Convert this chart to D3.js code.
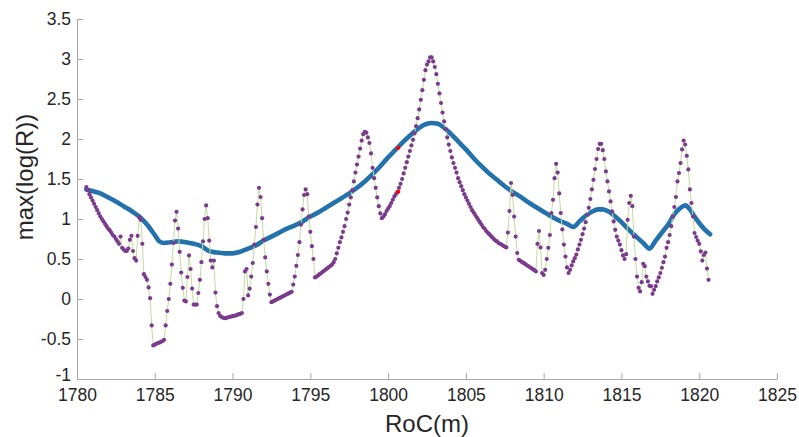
<!DOCTYPE html>
<html>
<head>
<meta charset="utf-8">
<script src="https://cdn.jsdelivr.net/npm/d3@7"></script>
<style>
  body { margin: 0; background: #fff; }
  .chart text { font-family: "Liberation Sans", Arial, Helvetica, sans-serif; fill: #262626; }
</style>
</head>
<body>
<div id="chart"></div>
<script>
// x axis ticks and y axis ticks
const xTicks = [1780, 1785, 1790, 1795, 1800, 1805, 1810, 1815, 1820, 1825];
const yTicks = [-1, -0.5, 0, 0.5, 1, 1.5, 2, 2.5, 3, 3.5];

// purple series: sampled every 0.1 m starting at 1780.6
const rocStart = 1780.6;
const rocStep = 0.1;
const maxLogR = [
  1.40, 1.36, 1.31, 1.27, 1.23, 1.19, 1.15, 1.11, 1.07, 1.03,
  1.00, 0.97, 0.94, 0.91, 0.88, 0.86, 0.83, 0.80, 0.78, 0.75,
  0.72, 0.69,
  0.78, 0.64, 0.62, 0.60, 0.60, 0.63, 0.74, 0.79, 0.60, 0.51,
  0.48, 0.79, 1.02, 0.99, 0.69, 0.31, 0.275, 0.24, 0.145, 0.01,
  -0.33, -0.58, -0.57, -0.56, -0.55, -0.545, -0.535, -0.525, -0.51, -0.33,
  -0.15, 0.0, 0.19, 0.43, 0.70, 0.98, 1.09, 0.88, 0.59, 0.33,
  0.14, -0.02, -0.03, 0.275, 0.545, 0.375, 0.13, -0.07, -0.07, -0.07,
  0.075, 0.24, 0.46, 0.72, 1.0, 1.17, 1.01, 0.73, 0.48, 0.395,
  0.48, 0.08, -0.09, -0.175, -0.21, -0.225, -0.235, -0.24, -0.235, -0.23,
  -0.225, -0.22, -0.215, -0.21, -0.205, -0.2, -0.19, -0.185, -0.175, 0.0,
  0.345, 0.375, 0.045, 0.13, 0.28, 0.45, 0.68, 0.9, 1.18, 1.39,
  1.275, 1.01, 0.74, 0.52, 0.345, 0.19, 0.055, -0.04, -0.03, -0.02,
  -0.01, 0.0, 0.01, 0.02, 0.03, 0.04, 0.05, 0.06, 0.07, 0.08,
  0.09, 0.18, 0.28, 0.415, 0.55, 0.71, 0.93, 1.12, 1.30, 1.37,
  1.31, 1.03, 0.84, 0.66, 0.5, 0.27, 0.28, 0.295, 0.31, 0.325,
  0.34, 0.355, 0.37, 0.385, 0.40, 0.415, 0.43, 0.46, 0.50, 0.57,
  0.64, 0.71, 0.77, 0.84, 0.91, 1.00, 1.08, 1.18, 1.27, 1.36,
  1.47, 1.58, 1.68, 1.78, 1.88, 1.98, 2.06, 2.09, 2.08, 2.02,
  1.95, 1.82, 1.64, 1.51, 1.39, 1.27, 1.16, 1.07, 1.01, 1.03,
  1.06, 1.10, 1.13, 1.16, 1.20, 1.24, 1.28, 1.31, 1.34, 1.39,
  1.44, 1.50, 1.57, 1.64, 1.71, 1.78, 1.85, 1.92, 1.99, 2.07,
  2.16, 2.26, 2.37, 2.49, 2.61, 2.74, 2.86, 2.93, 2.97, 3.02,
  3.02, 2.97, 2.90, 2.81, 2.69, 2.57, 2.45, 2.33, 2.22, 2.12,
  2.02, 1.93, 1.85, 1.77, 1.70, 1.64, 1.58, 1.51, 1.46, 1.41,
  1.36, 1.31, 1.27, 1.23, 1.19, 1.15, 1.11, 1.08, 1.05, 1.02,
  0.99, 0.96, 0.93, 0.90, 0.88, 0.85, 0.83, 0.81, 0.79, 0.77,
  0.75, 0.73, 0.72, 0.70, 0.69, 0.68, 0.665, 0.655, 0.645, 0.83,
  1.10, 1.45, 1.30, 1.03, 0.78, 0.575, 0.49, 0.477, 0.464, 0.451,
  0.438, 0.425, 0.412, 0.399, 0.386, 0.373, 0.36, 0.345, 0.69, 0.85,
  0.645, 0.325, 0.30, 0.365, 0.50, 0.64, 0.80, 1.075, 1.24, 1.51,
  1.69, 1.58, 1.32, 1.075, 0.87, 0.68, 0.53, 0.395, 0.325, 0.365,
  0.42, 0.47, 0.51, 0.555, 0.62, 0.68, 0.74, 0.81, 0.88, 0.96,
  1.05, 1.14, 1.25, 1.37, 1.49, 1.625, 1.75, 1.875, 1.94, 1.94,
  1.86, 1.75, 1.595, 1.47, 1.345, 1.22, 1.095, 0.97, 0.865, 0.78,
  0.73, 0.68, 0.61, 0.545, 0.50, 0.56, 0.99, 1.20, 1.29, 1.16,
  0.78, 0.50, 0.28, 0.14, 0.095, 0.21, 0.44, 0.41, 0.28, 0.22,
  0.165, 0.16, 0.065, 0.115, 0.16, 0.22, 0.27, 0.325, 0.39, 0.46,
  0.53, 0.64, 0.71, 0.80, 0.91, 1.03, 1.15, 1.275, 1.47, 1.575,
  1.70, 1.87, 1.98, 1.93, 1.79, 1.62, 1.37, 1.20, 1.03, 0.825,
  0.775, 0.73, 0.69, 0.595, 0.48, 0.55, 0.58, 0.38, 0.24
];

// blue envelope curve
const envRoc = [
  1780.6, 1781, 1781.5, 1782, 1782.5, 1783, 1783.5, 1784, 1784.5, 1785,
  1785.3, 1785.6, 1786, 1786.5, 1787, 1787.5, 1788, 1788.5, 1789, 1789.5,
  1790, 1790.5, 1791, 1791.5, 1792, 1792.5, 1793, 1793.5, 1794, 1794.5,
  1795, 1795.5, 1796, 1796.5, 1797, 1797.5, 1798, 1798.5, 1799, 1799.5,
  1800, 1800.5, 1801, 1801.5, 1802, 1802.5, 1802.8, 1803.2, 1803.6, 1804,
  1804.5, 1805, 1805.5, 1806, 1806.5, 1807, 1807.5, 1808, 1808.5, 1809,
  1809.5, 1810, 1810.5, 1811, 1811.5, 1811.9, 1812.3, 1812.7, 1813.1, 1813.5,
  1813.8, 1814.2, 1814.6, 1815, 1815.5, 1816, 1816.4, 1816.8, 1817.2, 1817.6,
  1818, 1818.4, 1818.8, 1819.1, 1819.4, 1819.7, 1820, 1820.3, 1820.7
];
const envValue = [
  1.37, 1.35, 1.32, 1.27, 1.22, 1.16, 1.10, 1.03, 0.93, 0.80,
  0.72, 0.70, 0.71, 0.72, 0.71, 0.69, 0.66, 0.60, 0.58, 0.57,
  0.57, 0.59, 0.63, 0.67, 0.73, 0.78, 0.83, 0.88, 0.92, 0.97,
  1.03, 1.08, 1.14, 1.20, 1.26, 1.32, 1.39, 1.47, 1.56, 1.66,
  1.77, 1.87, 1.97, 2.06, 2.14, 2.19, 2.20, 2.19, 2.14, 2.07,
  1.97, 1.87, 1.76, 1.66, 1.57, 1.49, 1.41, 1.34, 1.28, 1.21,
  1.15, 1.09, 1.03, 0.98, 0.94, 0.90, 0.97, 1.04, 1.09, 1.12,
  1.12, 1.09, 1.03, 0.96, 0.86, 0.77, 0.70, 0.63, 0.73, 0.83,
  0.93, 1.06, 1.14, 1.17, 1.12, 1.03, 0.95, 0.88, 0.81
];

// two highlighted samples
const markRoc = [1800.65, 1800.65];
const markValue = [1.89, 1.34];

const margin = { top: 19, right: 22, bottom: 58, left: 77 };
const totalWidth = 799,
  totalHeight = 437;
const width = totalWidth - margin.left - margin.right;
const height = totalHeight - margin.top - margin.bottom;

const purple = maxLogR.map((v, i) => ({ x: rocStart + i * rocStep, y: v }));
const envelope = envRoc.map((r, i) => ({ x: r, y: envValue[i] }));
const marks = markRoc.map((r, i) => ({ x: r, y: markValue[i] }));

let svg = d3
  .select("#chart")
  .append("svg")
  .attr("class", "chart")
  .attr("width", totalWidth)
  .attr("height", totalHeight);

let g = svg
  .append("g")
  .attr("transform", "translate(" + margin.left + "," + margin.top + ")");

const x = d3.scaleLinear().domain([1780, 1825]).range([0, width]);
const y = d3.scaleLinear().domain([-1, 3.5]).range([height, 0]);

// axes (inward ticks, no box); plain hyphen for negatives like the original
let xAxis = g
  .append("g")
  .attr("class", "x-axis")
  .attr("transform", "translate(0," + height + ")")
  .call(d3.axisBottom(x).tickValues(xTicks).tickFormat((d) => String(d)).tickSizeInner(-6).tickSizeOuter(0).tickPadding(10));

let yAxis = g
  .append("g")
  .attr("class", "y-axis")
  .call(d3.axisLeft(y).tickValues(yTicks).tickFormat((d) => String(d)).tickSizeInner(-6).tickSizeOuter(0).tickPadding(6));

[xAxis, yAxis].forEach((a) => {
  a.select(".domain").attr("stroke", "#a6a6a6").attr("stroke-width", 1);
  a.selectAll(".tick line").attr("stroke", "#a6a6a6");
  a.selectAll(".tick text").style("font-size", "17.5px");
});

// the bottom "-1" sits just above the first x label, as in the original
yAxis.selectAll(".tick text").filter((d) => d === -1).attr("dy", "0.1em");

// envelope line
const line = d3
  .line()
  .x((d) => x(d.x))
  .y((d) => y(d.y))
  .curve(d3.curveMonotoneX);

g.append("path")
  .datum(envelope)
  .attr("fill", "none")
  .attr("stroke", "#2372ab")
  .attr("stroke-width", 4.6)
  .attr("stroke-linejoin", "round")
  .attr("stroke-linecap", "round")
  .attr("d", line);

// thin connecting line of the sampled series
g.append("path")
  .datum(purple)
  .attr("fill", "none")
  .attr("stroke", "#c3dba0")
  .attr("stroke-width", 1)
  .attr("d", d3.line().x((d) => x(d.x)).y((d) => y(d.y)));

g.selectAll(".dot")
  .data(purple)
  .enter()
  .append("circle")
  .attr("class", "dot")
  .attr("cx", (d) => x(d.x))
  .attr("cy", (d) => y(d.y))
  .attr("r", 2.1)
  .attr("fill", "#7b3b8c");

g.selectAll(".mark")
  .data(marks)
  .enter()
  .append("circle")
  .attr("class", "mark")
  .attr("cx", (d) => x(d.x))
  .attr("cy", (d) => y(d.y))
  .attr("r", 2.1)
  .attr("fill", "#ff0000");

// axis titles
svg
  .append("text")
  .attr("x", margin.left + width / 2)
  .attr("y", 432)
  .attr("text-anchor", "middle")
  .style("font-size", "24px")
  .text("RoC(m)");

svg
  .append("text")
  .attr("transform", "translate(33,177) rotate(-90)")
  .attr("text-anchor", "middle")
  .style("font-size", "24px")
  .text("max(log(R))");
</script>
</body>
</html>
